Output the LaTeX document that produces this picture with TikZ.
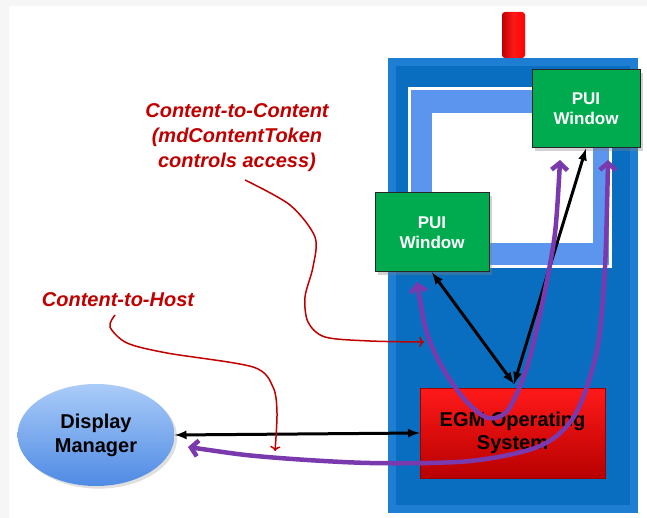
\documentclass[tikz,border=0pt]{standalone}
\usepackage{fontspec}
\setmainfont{Liberation Sans}
\usepackage{tikz}
\usetikzlibrary{arrows,arrows.meta,shadows,shapes.geometric}
\definecolor{tabblue}{HTML}{0A6EC0}
\definecolor{tabedge}{HTML}{1E7FD2}
\definecolor{framblue}{HTML}{5C95EE}
\definecolor{puigreen}{HTML}{00AA4F}
\definecolor{egmred}{HTML}{D80000}
\definecolor{annred}{HTML}{C00000}
\definecolor{flowpurple}{HTML}{7A3AAE}
\definecolor{dmtop}{HTML}{AACCF8}
\definecolor{dmbottom}{HTML}{4F8AE4}
\tikzset{
  pui/.style={draw=black!85, line width=1pt, fill=puigreen, text=white, align=center,
    font=\bfseries\fontsize{17}{20}\selectfont, drop shadow={opacity=0.35}},
  note/.style={text=annred, align=center, font=\bfseries\itshape\fontsize{20}{25}\selectfont},
  annot/.style={annred, line width=1.5pt},
  link/.style={black, line width=3pt, latex-latex},
  flow/.style={flowpurple, line width=4.5pt, {Straight Barb[length=7pt,width=16pt]}-{Straight Barb[length=7pt,width=16pt]}}
}
\begin{document}
\begin{tikzpicture}[x=1pt,y=-1pt]
  \useasboundingbox (0,0) rectangle (647,518);
  \fill[gray!7] (0,0) rectangle (647,518);
  \fill[white] (9,6) rectangle (647,518);
  \coordinate (meet) at (514,384);
  \coordinate (lpuiend) at (417,282);
  \coordinate (rpuiendl) at (560,160);
  \coordinate (rpuiendr) at (608,160);
  \coordinate (dmend) at (188,447);
  \coordinate (c2cstart) at (245,180);
  \coordinate (c2cend) at (424,342);
  \coordinate (c2hstart) at (115,315);
  \coordinate (c2hend) at (275,451);
  \shade[left color=red!75!black, right color=red, middle color=red!90, rounded corners=3pt] (502,12) rectangle (525,58);
  \fill[tabedge] (388,58) rectangle (638,513);
  \fill[tabblue] (396,66) rectangle (630,505);
  \fill[white] (408,87) rectangle (612,268);
  \fill[framblue] (411,90) rectangle (609,265);
  \fill[white] (432,113) rectangle (593,243);
  \node[pui, minimum width=108, minimum height=78] (rpui) at (586,109) {PUI\\Window};
  \node[pui, minimum width=114, minimum height=79] (lpui) at (432,232.5) {PUI\\Window};
  \node[draw=red!60!black, top color=red!90, bottom color=red!72!black, minimum width=185, minimum height=90,
    align=center, text=black, font=\bfseries\fontsize{20}{23}\selectfont] (egm) at (512.5,433) {EGM Operating\\System};
  \node[ellipse, inner sep=0pt, minimum width=157, minimum height=102, top color=dmtop, bottom color=dmbottom,
    align=center, font=\bfseries\fontsize{20}{24}\selectfont, drop shadow={opacity=0.25}] (dm) at (96,435) {Display\\Manager};
  \draw[link] (dm.east) -- (egm.west);
  \draw[link] (lpui.south) -- (meet);
  \draw[link] (rpui.south) -- (meet);
  \draw[flow] plot[smooth] coordinates {(lpuiend) (427,333) (442,367) (465,400) (488,418) (508,410) (527,367) (543,300) (555,233) (rpuiendl)};
  \draw[flow] plot[smooth] coordinates {(dmend) (267,457) (370,463) (470,461) (540,446) (575,415) (597,350) (605,267) (rpuiendr)};
  \node[note] (c2c) at (237,138) {Content-to-Content\\(mdContentToken\\controls access)};
  \node[note] (c2h) at (118,300) {Content-to-Host};
  \draw[annot,->] plot[smooth] coordinates {(c2cstart) (290,205) (315,237) (313,267) (305,297) (308,322) (325,337) (370,341) (c2cend)};
  \draw[annot,->] plot[smooth] coordinates {(c2hstart) (110,327) (127,343) (167,353) (253,367) (273,387) (277,413) (c2hend)};
\end{tikzpicture}
\end{document}
